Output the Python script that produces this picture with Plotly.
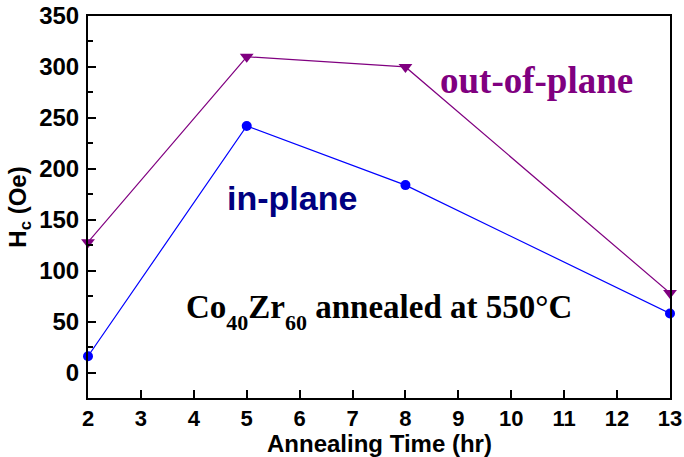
import plotly.graph_objects as go

# Data
time_hr = [2, 5, 8, 13]
hc_in_plane = [16, 242, 184, 58]
hc_out_of_plane = [128, 310, 300, 78]
x_ticks = list(range(2, 14))
y_ticks = [0, 50, 100, 150, 200, 250, 300, 350]

fig = go.Figure()
fig.add_trace(go.Scatter(
    x=time_hr, y=hc_out_of_plane, mode="lines+markers", name="out-of-plane",
    line=dict(color="#800080", width=1.2),
    marker=dict(symbol="triangle-down", size=12, color="#800080"),
    cliponaxis=False,
))
fig.add_trace(go.Scatter(
    x=time_hr, y=hc_in_plane, mode="lines+markers", name="in-plane",
    line=dict(color="#0000FF", width=1.2),
    marker=dict(symbol="circle", size=10, color="#0000FF"),
    cliponaxis=False,
))

fig.update_layout(
    width=684, height=457,
    margin=dict(l=88, r=14, t=16, b=59),
    plot_bgcolor="white", paper_bgcolor="white",
    showlegend=False,
    xaxis=dict(
        range=[2, 13], tickvals=x_ticks, ticks="inside", ticklen=8, tickwidth=1.5,
        tickcolor="black", showline=True, linewidth=2, linecolor="black", mirror=True,
        showgrid=False, zeroline=False, automargin=False, ticklabelstandoff=0,
        tickfont=dict(family="Liberation Sans, Arial", size=22, color="black", weight="bold"),
    ),
    yaxis=dict(
        range=[-25, 350], tickvals=y_ticks, ticks="inside", ticklen=8, tickwidth=1.5,
        tickcolor="black", showline=True, linewidth=2, linecolor="black", mirror=True,
        showgrid=False, zeroline=False, ticklabelstandoff=2, automargin=False,
        minor=dict(dtick=25, tick0=-25, ticks="inside", ticklen=5, tickwidth=1.5, tickcolor="black"),
        tickfont=dict(family="Liberation Sans, Arial", size=24, color="black", weight="bold"),
        title=dict(text="H<sub>c</sub> (Oe)", standoff=6,
                   font=dict(family="Liberation Sans, Arial", size=24, color="black", weight="bold")),
    ),
)

# x-axis title placed precisely below the tick labels
fig.add_annotation(
    text="Annealing Time (hr)", xref="paper", yref="paper", x=0.5, y=-0.1204,
    showarrow=False, xanchor="center", yanchor="middle",
    font=dict(family="Liberation Sans, Arial", size=24, color="black", weight="bold"),
)
fig.add_annotation(
    text="out-of-plane", xref="paper", yref="paper", x=0.77, y=0.832,
    showarrow=False, xanchor="center", yanchor="middle",
    font=dict(family="Liberation Serif, Times New Roman", size=37, color="#800080", weight="bold"),
)
fig.add_annotation(
    text="in-plane", xref="paper", yref="paper", x=0.35, y=0.524,
    showarrow=False, xanchor="center", yanchor="middle",
    font=dict(family="Liberation Sans, Arial", size=34, color="#000080", weight="bold"),
)
fig.add_annotation(
    text=("Co<sub><sub><span style=\"font-size:22px\">40</span></sub></sub>"
          "Zr<sub><sub><span style=\"font-size:22px\">60</span></sub></sub> annealed at 550°C"),
    xref="paper", yref="paper",
    x=0.5, y=0.225, showarrow=False, xanchor="center", yanchor="middle",
    font=dict(family="Liberation Serif, Times New Roman", size=33, color="black", weight="bold"),
)

fig.write_html("out.html")
